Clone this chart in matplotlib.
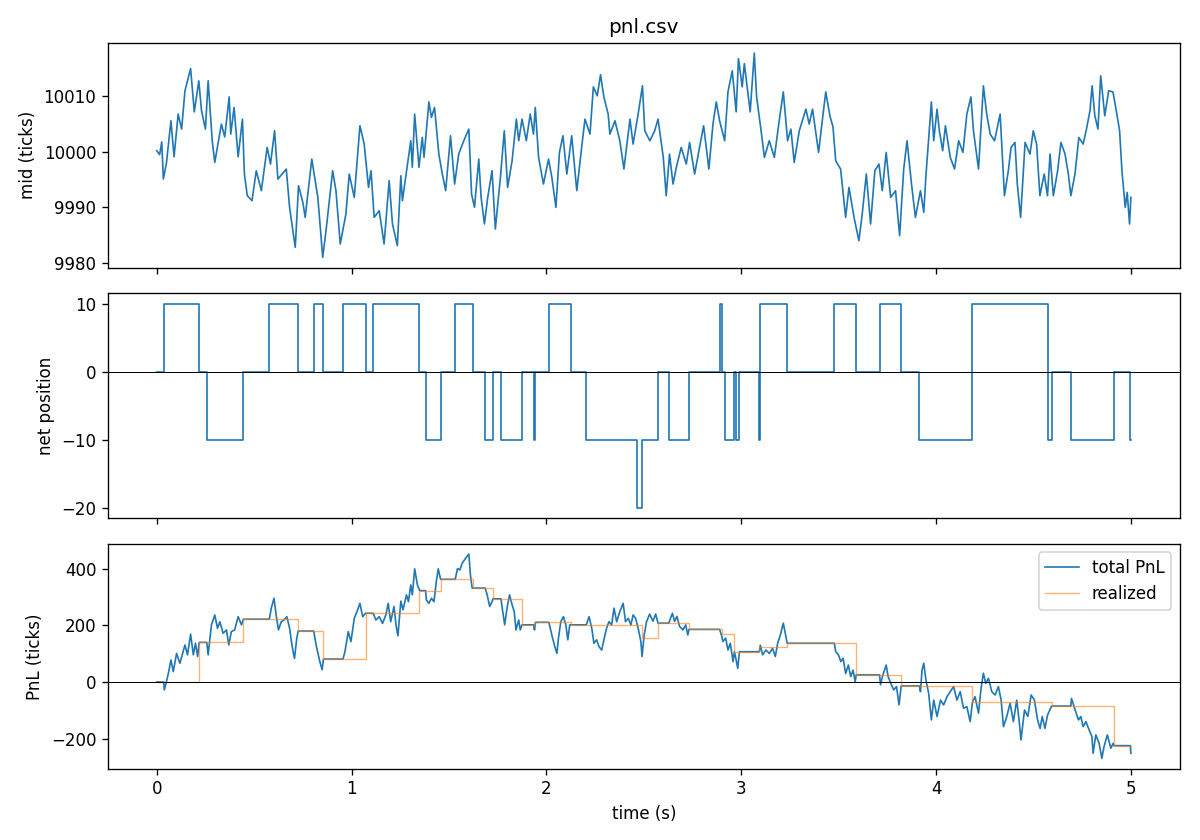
import matplotlib
matplotlib.use("Agg")
import matplotlib.pyplot as plt
from matplotlib.ticker import MultipleLocator

# ---------------- data ----------------
mid_t = [0, 0.015, 0.026, 0.034, 0.05, 0.073, 0.089, 0.11, 0.128, 0.145, 0.174, 0.193, 0.216, 0.23, 0.25,
         0.264, 0.285, 0.298, 0.332, 0.349, 0.372, 0.38, 0.397, 0.418, 0.44, 0.45, 0.465, 0.489, 0.511, 0.537,
         0.567, 0.584, 0.605, 0.622, 0.665, 0.682, 0.711, 0.728, 0.75, 0.762, 0.796, 0.827, 0.852, 0.869, 0.903,
         0.92, 0.942, 0.971, 0.988, 1.014, 1.043, 1.065, 1.087, 1.1, 1.116, 1.142, 1.167, 1.193, 1.21, 1.235,
         1.253, 1.261, 1.287, 1.304, 1.312, 1.324, 1.346, 1.363, 1.372, 1.397, 1.41, 1.426, 1.448, 1.466, 1.483,
         1.508, 1.529, 1.55, 1.576, 1.602, 1.616, 1.631, 1.653, 1.665, 1.682, 1.699, 1.721, 1.738, 1.764, 1.784,
         1.801, 1.824, 1.846, 1.858, 1.875, 1.897, 1.917, 1.934, 1.943, 1.96, 1.985, 2.011, 2.028, 2.049, 2.067,
         2.085, 2.105, 2.13, 2.156, 2.181, 2.198, 2.224, 2.241, 2.261, 2.278, 2.295, 2.317, 2.326, 2.352, 2.377,
         2.398, 2.429, 2.445, 2.471, 2.493, 2.505, 2.531, 2.556, 2.573, 2.6, 2.615, 2.632, 2.65, 2.667, 2.692,
         2.718, 2.735, 2.761, 2.786, 2.807, 2.834, 2.855, 2.872, 2.889, 2.915, 2.932, 2.954, 2.974, 2.986, 3.005,
         3.016, 3.046, 3.067, 3.079, 3.102, 3.119, 3.144, 3.17, 3.195, 3.216, 3.238, 3.255, 3.272, 3.298, 3.332,
         3.349, 3.366, 3.397, 3.417, 3.434, 3.455, 3.471, 3.485, 3.51, 3.536, 3.553, 3.579, 3.604, 3.621, 3.642,
         3.664, 3.686, 3.707, 3.724, 3.744, 3.767, 3.792, 3.813, 3.834, 3.851, 3.874, 3.894, 3.92, 3.937, 3.948,
         3.976, 3.988, 4.005, 4.017, 4.034, 4.048, 4.073, 4.095, 4.116, 4.138, 4.158, 4.179, 4.192, 4.218, 4.243,
         4.26, 4.278, 4.3, 4.329, 4.351, 4.371, 4.385, 4.405, 4.417, 4.434, 4.457, 4.482, 4.499, 4.516, 4.533,
         4.555, 4.572, 4.585, 4.602, 4.624, 4.641, 4.662, 4.679, 4.692, 4.713, 4.733, 4.755, 4.772, 4.79, 4.801,
         4.815, 4.831, 4.845, 4.866, 4.886, 4.908, 4.925, 4.942, 4.954, 4.971, 4.981, 4.993, 5.0]
mid_v = [10000.2, 9999.5, 10001.8, 9995.1, 9998, 10005.6, 9999.1, 10006.8, 10004.1, 10011, 10015, 10007.2, 10012.8, 10007.4, 10004.1,
         10012.8, 10002, 9998.1, 10005, 10002.7, 10009.9, 10003.2, 10008, 9999.1, 10005.9, 9996, 9992.1, 9991.2, 9996.6, 9993,
         10000.8, 9997.8, 10003.8, 9995.1, 9996.9, 9990, 9982.8, 9993.9, 9990.9, 9988.2, 9998.7, 9991.8, 9981, 9985.8, 9996.6,
         9993, 9983.4, 9988.8, 9996, 9991.8, 10004.7, 10001.4, 9993.6, 9996.6, 9988.2, 9989.4, 9983.4, 9994.8, 9987, 9983.1,
         9995.7, 9991.2, 9997.8, 10002, 9997.2, 10006.8, 9997.2, 10002.6, 9999, 10009, 10006.2, 10008, 9999.6, 9996, 9993,
         10002.9, 9994.2, 9999.6, 10002, 10004.1, 9992.4, 9990, 9998.7, 9991.8, 9987, 9991.8, 9996.6, 9986.1, 9995.4, 10003.8,
         9993.6, 9998.4, 10005.9, 10002, 10005.9, 10002, 10006.8, 10003.2, 10008, 9999, 9994.2, 9998.7, 9995.4, 9990, 9999.9,
         10002.9, 9996, 10002.9, 9993, 10000.8, 10005.9, 10003.2, 10011.7, 10010.1, 10013.9, 10009.9, 10006.8, 10003.2, 10005.6, 10002,
         9996.9, 10005.9, 10001.4, 10006.8, 10011.9, 10003.8, 10002, 10003.8, 10005.9, 9999, 9992.1, 9999.6, 9994.2, 9997.2, 10000.8,
         9997.8, 10001.7, 9996, 10000.8, 10004.7, 9996.9, 10005, 10009, 10005.6, 10002, 10010.8, 10014.6, 10007.2, 10016.8, 10011.7,
         10015.9, 10007.2, 10017.8, 10009.9, 10003.8, 9999, 10002, 9999, 10005.6, 10010.8, 10002, 10004.1, 9998.1, 10003.8, 10007.7,
         10005, 10007.7, 9999.9, 10005.9, 10010.8, 10006.5, 10004.5, 9998.4, 9996.9, 9988.2, 9993.6, 9988.2, 9984, 9988.8, 9996,
         9987, 9996.6, 9997.8, 9993, 9999.9, 9991.8, 9993, 9984.9, 9996.9, 10002, 9994.2, 9988.2, 9993, 9989.1, 9995.7,
         10009, 10002, 10007.7, 10003.8, 10000.2, 10004.7, 9999, 9996.9, 10002, 9999.9, 10006.8, 10009.9, 10003.8, 9996.9, 10011.9,
         10006.8, 10003.2, 10002, 10006.8, 9992.1, 9996.6, 10000.8, 10001.7, 9994.2, 9988.2, 10001.7, 9999.6, 10003.8, 10001.4, 9992.1,
         9996, 9992.1, 9999.6, 9992.1, 9996.6, 10001.7, 9999.6, 9996, 9992.1, 9996, 10002.6, 10001.4, 10004.1, 10007.4, 10011.9,
         10006.5, 10004.1, 10013.7, 10006.5, 10011, 10010.8, 10007.4, 10003.8, 9996.6, 9990, 9992.7, 9987, 9991.8]

pos_t = [0, 0.036, 0.218, 0.257, 0.445, 0.578, 0.726, 0.806, 0.856, 0.956, 1.072, 1.111, 1.348, 1.38, 1.459,
         1.532, 1.622, 1.686, 1.724, 1.767, 1.875, 1.934, 1.944, 2.013, 2.127, 2.205, 2.463, 2.491, 2.573, 2.628,
         2.73, 2.889, 2.899, 2.918, 2.965, 2.974, 2.991, 3.090, 3.096, 3.236, 3.478, 3.59, 3.71, 3.821, 3.915,
         4.187, 4.574, 4.593, 4.692, 4.913, 4.997, 5.0]
pos_v = [0, 10, 0, -10, 0, 10, 0, 10, 0, 10, 0, 10, 0, -10, 0,
         10, 0, -10, 0, -10, 0, -10, 0, 10, 0, -10, -20, -10, 0, -10,
         0, 10, 0, -10, 0, -10, 0, -10, 10, 0, 10, 0, 10, 0, -10,
         10, -10, 0, -10, 0, -10, -10]

pnl_t = [0, 0.029, 0.036, 0.039, 0.05, 0.06, 0.073, 0.085, 0.102, 0.119, 0.145, 0.158, 0.174, 0.188, 0.199,
         0.21, 0.218, 0.257, 0.264, 0.281, 0.298, 0.312, 0.324, 0.341, 0.358, 0.37, 0.383, 0.4, 0.418, 0.435,
         0.445, 0.578, 0.588, 0.602, 0.613, 0.625, 0.639, 0.653, 0.668, 0.682, 0.694, 0.707, 0.719, 0.726, 0.806,
         0.818, 0.835, 0.849, 0.856, 0.956, 0.966, 0.983, 0.997, 1.014, 1.028, 1.043, 1.057, 1.072, 1.111, 1.125,
         1.142, 1.159, 1.176, 1.188, 1.201, 1.218, 1.228, 1.238, 1.253, 1.264, 1.282, 1.292, 1.304, 1.312, 1.324,
         1.338, 1.35, 1.38, 1.384, 1.397, 1.41, 1.423, 1.435, 1.445, 1.457, 1.532, 1.544, 1.556, 1.568, 1.585,
         1.602, 1.61, 1.619, 1.686, 1.696, 1.709, 1.721, 1.726, 1.767, 1.776, 1.786, 1.798, 1.811, 1.824, 1.835,
         1.844, 1.858, 1.866, 1.875, 1.934, 1.939, 1.944, 2.013, 2.028, 2.041, 2.054, 2.062, 2.074, 2.087, 2.1,
         2.11, 2.12, 2.127, 2.205, 2.219, 2.233, 2.244, 2.258, 2.27, 2.284, 2.297, 2.309, 2.321, 2.335, 2.347,
         2.361, 2.377, 2.394, 2.406, 2.42, 2.434, 2.445, 2.458, 2.471, 2.485, 2.491, 2.502, 2.514, 2.53, 2.547,
         2.561, 2.573, 2.628, 2.647, 2.658, 2.67, 2.684, 2.701, 2.715, 2.726, 2.732, 2.889, 2.899, 2.906, 2.92,
         2.932, 2.944, 2.958, 2.965, 2.974, 2.982, 2.991, 3.093, 3.098, 3.11, 3.127, 3.144, 3.161, 3.175, 3.187,
         3.201, 3.216, 3.226, 3.236, 3.478, 3.485, 3.499, 3.511, 3.523, 3.536, 3.55, 3.562, 3.574, 3.585, 3.59,
         3.71, 3.715, 3.727, 3.744, 3.754, 3.771, 3.783, 3.797, 3.81, 3.821, 3.915, 3.92, 3.928, 3.937, 3.948,
         3.962, 3.976, 3.988, 4.005, 4.023, 4.039, 4.056, 4.073, 4.09, 4.107, 4.124, 4.141, 4.158, 4.175, 4.187,
         4.2, 4.218, 4.231, 4.243, 4.255, 4.269, 4.286, 4.303, 4.32, 4.334, 4.346, 4.363, 4.38, 4.397, 4.414,
         4.426, 4.436, 4.454, 4.471, 4.488, 4.505, 4.521, 4.534, 4.545, 4.559, 4.572, 4.593, 4.692, 4.695, 4.714,
         4.731, 4.743, 4.755, 4.769, 4.786, 4.8, 4.806, 4.82, 4.837, 4.851, 4.862, 4.879, 4.897, 4.909, 4.913,
         4.997, 5.0]
pnl_v = [0, 0, 0, -28, 1, 31, 78, 37, 101, 66, 131, 96, 169, 96, 137,
         90, 140, 140, 96, 202, 237, 190, 213, 172, 184, 131, 178, 184, 231, 202,
         222, 222, 261, 296, 237, 184, 213, 219, 231, 190, 131, 83, 155, 180, 180,
         131, 78, 43, 81, 81, 107, 178, 143, 225, 249, 278, 231, 243, 243, 219,
         231, 207, 237, 278, 213, 267, 202, 163, 286, 255, 308, 284, 343, 308, 400,
         343, 323, 323, 290, 278, 296, 284, 355, 400, 363, 363, 401, 396, 420, 437,
         452, 379, 332, 332, 308, 267, 284, 294, 294, 249, 202, 261, 308, 273, 249,
         184, 219, 184, 202, 202, 184, 211, 211, 166, 131, 101, 155, 213, 231, 202,
         149, 202, 202, 202, 231, 190, 137, 149, 125, 113, 155, 190, 213, 202, 261,
         213, 249, 278, 213, 225, 202, 237, 225, 190, 143, 90, 166, 213, 240, 215,
         240, 208, 208, 243, 214, 232, 196, 184, 202, 166, 186, 186, 165, 143, 155,
         113, 137, 72, 107, 78, 48, 107, 107, 130, 96, 113, 101, 119, 90, 137,
         166, 208, 172, 137, 137, 107, 96, 72, 84, 30, 60, 19, 42, 1, 25,
         25, -10, 25, 60, 19, -10, -28, -16, -81, -14, -14, -34, 42, 66, 7,
         -40, -134, -64, -122, -64, -81, -52, -34, -16, -64, -34, -93, -87, -140, -70,
         -52, -110, -22, 31, -5, 13, -34, -46, -16, -64, -158, -122, -75, -140, -64,
         -134, -205, -99, -122, -46, -64, -134, -164, -122, -164, -117, -85, -85, -58, -99,
         -134, -122, -158, -140, -170, -193, -252, -187, -217, -270, -229, -187, -234, -217, -225,
         -225, -252]

real_t = [0, 0.218, 0.445, 0.726, 0.856, 1.072, 1.348, 1.459, 1.622, 1.724, 1.875, 1.944, 2.127, 2.491, 2.573,
          2.73, 2.899, 2.965, 3.093, 3.236, 3.59, 3.821, 4.187, 4.593, 4.913, 5.0]
real_v = [0, 140, 222, 180, 81, 243, 323, 363, 332, 294, 202, 211, 202, 157, 208,
          186, 169, 107, 125, 137, 25, -14, -72, -85, -225, -225]

# ---------------- plot ----------------
blue = "#1f77b4"
orange = "#ff7f0e"

fig, axes = plt.subplots(3, 1, figsize=(10, 7), dpi=120, sharex=True)
fig.subplots_adjust(left=0.09, right=0.983, top=0.949, bottom=0.085, hspace=0.115)
ax1, ax2, ax3 = axes

ax1.plot(mid_t, mid_v, color=blue, lw=1.0)
ax1.set_ylabel("mid (ticks)")
ax1.set_title("pnl.csv")
ax1.yaxis.set_major_locator(MultipleLocator(10))

ax2.plot(pos_t, pos_v, color=blue, lw=1.0, drawstyle="steps-post")
ax2.axhline(0, color="black", lw=0.6)
ax2.set_ylabel("net position")
ax2.yaxis.set_major_locator(MultipleLocator(10))

ax3.plot(pnl_t, pnl_v, color=blue, lw=1.0, label="total PnL")
ax3.plot(real_t, real_v, color=orange, lw=0.8, alpha=0.6, drawstyle="steps-post", label="realized")
ax3.axhline(0, color="black", lw=0.6)
ax3.set_ylabel("PnL (ticks)")
ax3.set_xlabel("time (s)")
ax3.yaxis.set_major_locator(MultipleLocator(200))
ax3.legend(loc="upper right")

fig.savefig("out.png")
